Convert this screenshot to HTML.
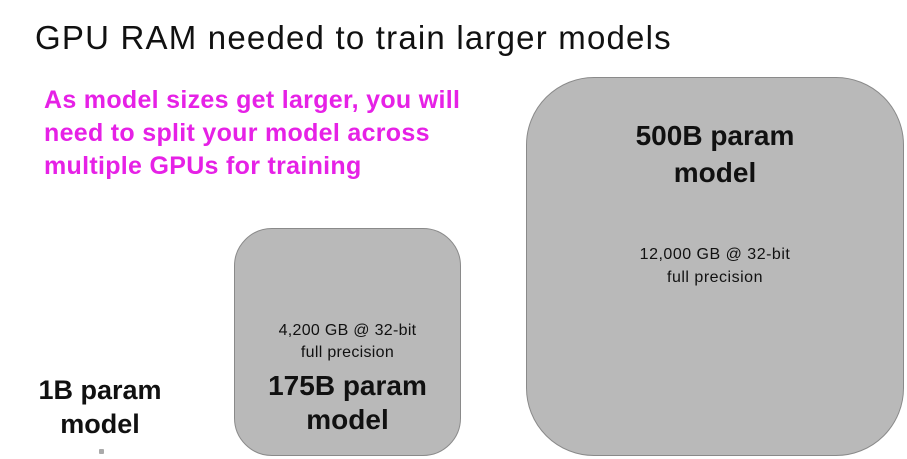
<!DOCTYPE html>
<html><head><meta charset="utf-8"><style>
body{margin:0;width:907px;height:459px;background:#fff;overflow:hidden;position:relative;font-family:"Liberation Sans",sans-serif}
.a{position:absolute;white-space:nowrap}
.box{position:absolute;background:#b9b9b9;border:1px solid #8a8a8a;box-sizing:border-box}
.c{text-align:center;color:#111}
</style></head><body>
<div class="a" style="left:35px;top:19px;font-size:33px;letter-spacing:1.2px;color:#111">GPU RAM needed to train larger models</div>
<div class="a" style="left:44px;top:84px;font-size:25px;letter-spacing:0.3px;font-weight:bold;color:#e621e6;line-height:33px">As model sizes get larger, you will<br>need to split your model across<br>multiple GPUs for training</div>
<div class="box" style="left:234px;top:228px;width:227px;height:228px;border-radius:38px"></div>
<div class="box" style="left:526px;top:77px;width:378px;height:379px;border-radius:68px"></div>
<div class="a c" style="left:18px;top:373px;width:164px;font-size:27px;font-weight:bold;line-height:34px">1B param<br>model</div>
<div class="a" style="left:99px;top:449px;width:5px;height:5px;background:#aaa;border-radius:1px"></div>
<div class="a c" style="left:234px;top:320px;width:227px;font-size:16px;letter-spacing:0.3px;line-height:22px">4,200 GB @ 32-bit<br>full precision</div>
<div class="a c" style="left:234px;top:369px;width:227px;font-size:28px;font-weight:bold;line-height:34px">175B param<br>model</div>
<div class="a c" style="left:526px;top:117px;width:378px;font-size:28px;font-weight:bold;line-height:37px">500B param<br>model</div>
<div class="a c" style="left:526px;top:243px;width:378px;font-size:16px;letter-spacing:0.5px;line-height:23px">12,000 GB @ 32-bit<br>full precision</div>
</body></html>
